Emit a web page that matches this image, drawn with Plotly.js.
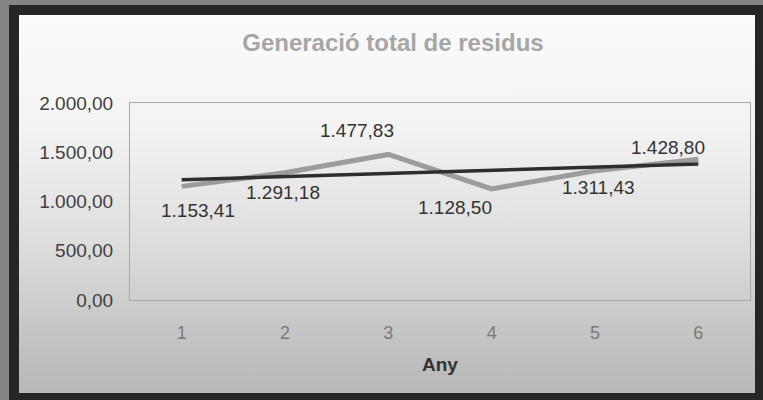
<!DOCTYPE html>
<html>
<head>
<meta charset="utf-8">
<script src="https://cdn.plot.ly/plotly-3.0.1.min.js"></script>
<style>
  html, body { margin: 0; padding: 0; width: 763px; height: 400px; overflow: hidden; background: #262626; }
  #leftstrip { position: absolute; left: 0; top: 0; width: 9px; height: 400px; background: #858585; }
  #topstrip { position: absolute; left: 0; top: 0; width: 763px; height: 5px; background: #858585; }
  #panel { position: absolute; left: 19px; top: 15px; width: 736px; height: 378px;
    background: linear-gradient(to bottom, #fbfbfb 0%, #f3f3f3 30%, #dcdcdc 62%, #c4c4c4 85%, #b8b8b8 100%); }
  #chart { position: absolute; left: 0; top: 0; width: 763px; height: 400px; }
</style>
</head>
<body>
<div id="leftstrip"></div>
<div id="topstrip"></div>
<div id="panel"></div>
<div id="chart"></div>
<script>
// Data
const years = ['1', '2', '3', '4', '5', '6'];
const residus = [1153.41, 1291.18, 1477.83, 1128.50, 1311.43, 1428.80];
const trendYears = ['1', '6'];
const trendValues = [1222, 1380];
const yTickVals = [0, 500, 1000, 1500, 2000];

// label offsets (pixels) for each data label
const labelDx = [16, -2, -31, -37, 3, -30];
const labelDy = [-24, -20, 24, -19, -17, 12];

function fmtCat(v) {
  const parts = v.toFixed(2).split('.');
  const intPart = parts[0].replace(/\B(?=(\d{3})+(?!\d))/g, '.');
  return intPart + ',' + parts[1];
}

const font = 'Liberation Sans, Arial, sans-serif';

const traces = [
  {
    x: years, y: residus, type: 'scatter', mode: 'lines',
    line: { color: '#9c9c9c', width: 5 }, hoverinfo: 'skip', showlegend: false
  },
  {
    x: trendYears, y: trendValues, type: 'scatter', mode: 'lines',
    line: { color: '#2e2e2e', width: 3.5 }, hoverinfo: 'skip', showlegend: false
  }
];

// on a category axis, annotation x is the category index
const annotations = residus.map((v, i) => ({
  x: i, y: v, xref: 'x', yref: 'y', text: fmtCat(v), showarrow: false,
  xshift: labelDx[i], yshift: labelDy[i],
  font: { family: font, size: 19, color: '#333333' }
}));

const layout = {
  width: 763, height: 400,
  paper_bgcolor: 'rgba(0,0,0,0)', plot_bgcolor: 'rgba(0,0,0,0)',
  separators: ',.',
  margin: { l: 130, r: 13, t: 103, b: 100 },
  title: {
    text: '<b>Generació total de residus</b>',
    font: { family: font, size: 24, color: '#a6a6a6' },
    x: 0.515, xanchor: 'center', y: 0.893, yanchor: 'middle'
  },
  xaxis: {
    type: 'category', categoryorder: 'array', categoryarray: years,
    range: [-0.5, 5.5],
    showgrid: false, zeroline: false,
    showline: true, mirror: true, linecolor: '#a8a8a8', linewidth: 1,
    ticks: '', ticklabelstandoff: 16,
    tickfont: { family: font, size: 18, color: '#7a7a7a' },
    title: { text: '<b>Any</b>', standoff: 16, font: { family: font, size: 19, color: '#333333' } }
  },
  yaxis: {
    range: [0, 2000], tickvals: yTickVals, tickformat: ',.2f',
    showgrid: false, zeroline: false,
    showline: true, mirror: true, linecolor: '#a8a8a8', linewidth: 1,
    ticks: '', ticklabelstandoff: 12,
    tickfont: { family: font, size: 19, color: '#404040' }
  },
  annotations: annotations
};

Plotly.newPlot('chart', traces, layout, { displayModeBar: false, staticPlot: true });
</script>
</body>
</html>
